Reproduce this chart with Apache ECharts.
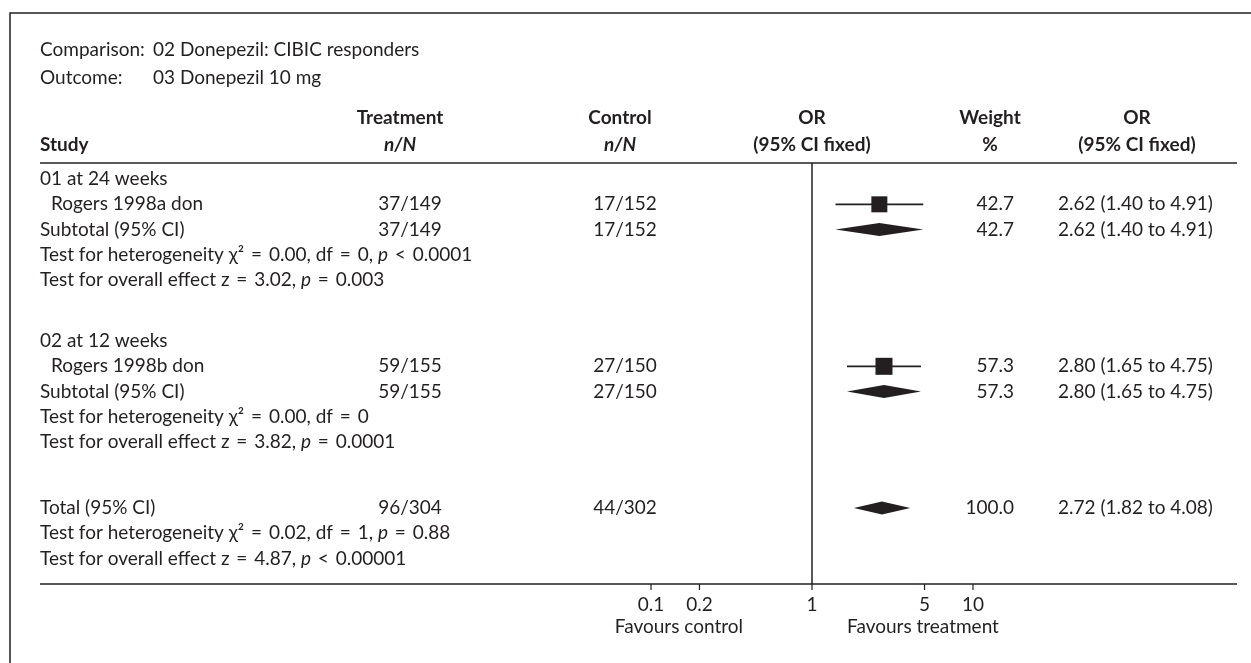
<!DOCTYPE html>
<html>
<head>
<meta charset="utf-8">
<script src="https://cdn.jsdelivr.net/npm/echarts@6/dist/echarts.min.js"></script>
<style>
  html, body { margin: 0; padding: 0; background: #fff; }
  #chart { width: 1251px; height: 663px; }
</style>
</head>
<body>
<div id="chart"></div>
<script>
// ---- Forest plot data: donepezil 10 mg, CIBIC responders ----
const subgroupTitles = ['01 at 24 weeks', '02 at 12 weeks'];

const studyNames  = ['Rogers 1998a don', 'Rogers 1998b don'];
const studyTreat  = ['37/149', '59/155'];
const studyCtrl   = ['17/152', '27/150'];
const studyOR     = [2.62, 2.80];
const studyLow    = [1.40, 1.65];
const studyHigh   = [4.91, 4.75];
const studyWeight = [42.7, 57.3];

const pooledNames  = ['Subtotal (95% CI)', 'Subtotal (95% CI)', 'Total (95% CI)'];
const pooledTreat  = ['37/149', '59/155', '96/304'];
const pooledCtrl   = ['17/152', '27/150', '44/302'];
const pooledOR     = [2.62, 2.80, 2.72];
const pooledLow    = [1.40, 1.65, 1.82];
const pooledHigh   = [4.91, 4.75, 4.08];
const pooledWeight = [42.7, 57.3, 100.0];

const heterogeneityTests = [
  'Test for heterogeneity χ² = 0.00, df = 0, *p* < 0.0001',
  'Test for heterogeneity χ² = 0.00, df = 0',
  'Test for heterogeneity χ² = 0.02, df = 1, *p* = 0.88'
];
const overallTests = [
  'Test for overall effect z = 3.02, *p* = 0.003',
  'Test for overall effect z = 3.82, *p* = 0.0001',
  'Test for overall effect z = 4.87, *p* < 0.00001'
];

const axisTicks = [0.1, 0.2, 1, 5, 10];

// ---- Layout: row slots on the vertical axis, column x positions ----
const titleRows  = [0, 6.4];
const studyRows  = [1, 7.4];
const pooledRows = [2, 8.4, 13];
const hetRows    = [3, 9.4, 14];
const effectRows = [4, 10.4, 15];
const ROW_MIN = -0.632, ROW_MAX = 16.0;

const COL_TEXT = 40, COL_INDENT = 51, COL_TREAT = 410, COL_CTRL = 625,
      COL_WEIGHT_R = 1014, COL_OR_L = 1058;
const INK = '#231f20';
const FAMILY = 'Lato, "Open Sans", "DejaVu Sans", sans-serif';
const FS = 19;

// *x* -> italic run; '=' and '<' get a little breathing room like typeset maths
function richify(s) {
  return s.replace(/\*([^*]+)\*/g, '{i|$1}').replace(/ ([=<]) /g, ' {op|$1} ');
}
const RICH = {
  i:  { fontStyle: 'italic', fontSize: FS, fontFamily: FAMILY, fill: INK },
  op: { fontSize: FS, fontFamily: FAMILY, fill: INK, padding: [0, 2] }
};

function txt(text, x, y, align, opts) {
  return {
    type: 'text',
    style: Object.assign({
      text: text, x: x, y: y, align: align || 'left', verticalAlign: 'middle',
      fill: INK, fontSize: FS, fontFamily: FAMILY, rich: RICH
    }, opts || {})
  };
}

// Table rows to render as text: [x placeholder, row, kind, index]
const tableRows = [];
titleRows.forEach((r, i) => tableRows.push([1, r, 0, i]));
studyRows.forEach((r, i) => tableRows.push([1, r, 1, i]));
pooledRows.forEach((r, i) => tableRows.push([1, r, 2, i]));
hetRows.forEach((r, i) => tableRows.push([1, r, 3, i]));
effectRows.forEach((r, i) => tableRows.push([1, r, 4, i]));

const chart = echarts.init(document.getElementById('chart'), null, { renderer: 'canvas' });

const option = {
  animation: false,
  backgroundColor: '#fff',
  grid: { left: 490, width: 644, top: 163, height: 421, containLabel: false },
  xAxis: {
    type: 'log', logBase: 10, min: 0.01, max: 100,
    axisLine: { show: false }, axisTick: { show: false },
    axisLabel: { show: false }, splitLine: { show: false }
  },
  yAxis: {
    type: 'value', inverse: true, min: ROW_MIN, max: ROW_MAX, show: false,
    splitLine: { show: false }
  },
  graphic: [
    { type: 'rect', shape: { x: 10, y: 13, width: 1400, height: 800 },
      style: { fill: null, stroke: INK, lineWidth: 1.5 }, silent: true },
    txt('Comparison:', COL_TEXT, 50), txt('02 Donepezil: CIBIC responders', 153, 50),
    txt('Outcome:', COL_TEXT, 78), txt('03 Donepezil 10 mg', 153, 78),
    txt('Study', COL_TEXT, 145, 'left', { fontWeight: 'bold' }),
    txt('Treatment', 400, 118, 'center', { fontWeight: 'bold' }),
    txt('n/N', 400, 145, 'center', { fontWeight: 'bold', fontStyle: 'italic' }),
    txt('Control', 620, 118, 'center', { fontWeight: 'bold' }),
    txt('n/N', 620, 145, 'center', { fontWeight: 'bold', fontStyle: 'italic' }),
    txt('OR', 812, 118, 'center', { fontWeight: 'bold' }),
    txt('(95% CI fixed)', 812, 145, 'center', { fontWeight: 'bold' }),
    txt('Weight', 990, 118, 'center', { fontWeight: 'bold' }),
    txt('%', 990, 145, 'center', { fontWeight: 'bold' }),
    txt('OR', 1137, 118, 'center', { fontWeight: 'bold' }),
    txt('(95% CI fixed)', 1137, 145, 'center', { fontWeight: 'bold' }),
    { type: 'line', shape: { x1: 40, y1: 163, x2: 1237, y2: 163 },
      style: { stroke: INK, lineWidth: 1.5 }, silent: true },
    { type: 'line', shape: { x1: 40, y1: 584, x2: 1237, y2: 584 },
      style: { stroke: INK, lineWidth: 1.5 }, silent: true },
    txt('Favours control', 743, 627, 'right'),
    txt('Favours treatment', 847, 627, 'left')
  ],
  series: [
    // Table text columns, plus the line of no effect at OR = 1
    {
      type: 'custom', clip: false, silent: true,
      data: tableRows,
      encode: { x: 0, y: 1 },
      markLine: {
        silent: true, symbol: 'none', label: { show: false },
        lineStyle: { color: INK, width: 1.5, type: 'solid' },
        data: [{ xAxis: 1 }]
      },
      renderItem: function (params, api) {
        const y = api.coord([1, api.value(1)])[1];
        const kind = api.value(2), i = api.value(3);
        const kids = [];
        if (kind === 0) {
          kids.push(txt(subgroupTitles[i], COL_TEXT, y));
        } else if (kind === 1) {
          kids.push(txt(studyNames[i], COL_INDENT, y));
          kids.push(txt(studyTreat[i], COL_TREAT, y, 'center'));
          kids.push(txt(studyCtrl[i], COL_CTRL, y, 'center'));
          kids.push(txt(studyWeight[i].toFixed(1), COL_WEIGHT_R, y, 'right'));
          kids.push(txt(studyOR[i].toFixed(2) + ' (' + studyLow[i].toFixed(2) + ' to ' +
                        studyHigh[i].toFixed(2) + ')', COL_OR_L, y));
        } else if (kind === 2) {
          kids.push(txt(pooledNames[i], COL_TEXT, y));
          kids.push(txt(pooledTreat[i], COL_TREAT, y, 'center'));
          kids.push(txt(pooledCtrl[i], COL_CTRL, y, 'center'));
          kids.push(txt(pooledWeight[i].toFixed(1), COL_WEIGHT_R, y, 'right'));
          kids.push(txt(pooledOR[i].toFixed(2) + ' (' + pooledLow[i].toFixed(2) + ' to ' +
                        pooledHigh[i].toFixed(2) + ')', COL_OR_L, y));
        } else if (kind === 3) {
          kids.push(txt(richify(heterogeneityTests[i]), COL_TEXT, y));
        } else {
          kids.push(txt(richify(overallTests[i]), COL_TEXT, y));
        }
        return { type: 'group', children: kids };
      }
    },
    // Individual studies: CI line and weighted square
    {
      type: 'custom', clip: false, silent: true,
      data: studyOR.map((v, i) => [v, studyRows[i], studyLow[i], studyHigh[i], studyWeight[i]]),
      encode: { x: 0, y: 1 },
      renderItem: function (params, api) {
        const c = api.coord([api.value(0), api.value(1)]);
        const lo = api.coord([api.value(2), api.value(1)]);
        const hi = api.coord([api.value(3), api.value(1)]);
        const s = 13 + api.value(4) * 0.07;
        return {
          type: 'group',
          children: [
            { type: 'line', shape: { x1: lo[0], y1: c[1], x2: hi[0], y2: c[1] },
              style: { stroke: INK, lineWidth: 1.8 } },
            { type: 'rect', shape: { x: c[0] - s / 2, y: c[1] - s / 2, width: s, height: s },
              style: { fill: INK } }
          ]
        };
      }
    },
    // Pooled estimates: diamonds
    {
      type: 'custom', clip: false, silent: true,
      data: pooledOR.map((v, i) => [v, pooledRows[i], pooledLow[i], pooledHigh[i]]),
      encode: { x: 0, y: 1 },
      renderItem: function (params, api) {
        const c = api.coord([api.value(0), api.value(1)]);
        const lo = api.coord([api.value(2), api.value(1)]);
        const hi = api.coord([api.value(3), api.value(1)]);
        const h = 6.5;
        return {
          type: 'polygon',
          shape: { points: [[lo[0], c[1]], [c[0], c[1] - h], [hi[0], c[1]], [c[0], c[1] + h]] },
          style: { fill: INK }
        };
      }
    },
    // Odds-ratio scale ticks and labels
    {
      type: 'custom', clip: false, silent: true,
      data: axisTicks.map(v => [v, ROW_MAX]),
      encode: { x: 0, y: 1 },
      renderItem: function (params, api) {
        const v = api.value(0);
        const p = api.coord([v, api.value(1)]);
        return {
          type: 'group',
          children: [
            { type: 'line', shape: { x1: p[0], y1: p[1], x2: p[0], y2: p[1] + 6 },
              style: { stroke: INK, lineWidth: 1.2 } },
            txt(String(v), p[0], p[1] + 21, 'center')
          ]
        };
      }
    }
  ]
};

chart.setOption(option);
</script>
</body>
</html>
